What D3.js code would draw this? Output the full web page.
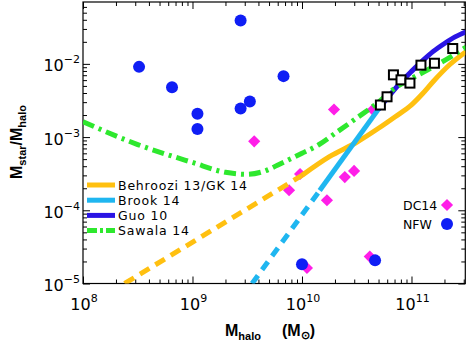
<!DOCTYPE html>
<html>
<head>
<meta charset="utf-8">
<script src="https://cdn.jsdelivr.net/npm/d3@7"></script>
<style>
body { margin: 0; background: #fff; }
svg { display: block; }
text { font-family: "DejaVu Sans", sans-serif; fill: #000; }
</style>
</head>
<body>
<script>
// halo mass (Msun) and Mstar/Mhalo
var behrooziDashM = [2.4e8, 1.0e10];
var behrooziDashR = [1.0e-5, 3.0e-4];
var behrooziM = [1.0e10, 1.78e10, 3.16e10, 5.0e10, 7.1e10, 1.0e11, 1.26e11, 1.58e11, 2.24e11, 3.16e11];
var behrooziR = [3.0e-4, 5.4e-4, 8.5e-4, 1.32e-3, 1.9e-3, 2.75e-3, 3.9e-3, 5.75e-3, 9.8e-3, 1.48e-2];

var brookDashM = [3.5e9, 1.45e10];
var brookDashR = [1.0e-5, 1.86e-4];
var brookM = [1.45e10, 5.6e10];
var brookR = [1.86e-4, 3.05e-3];

var guoM = [5.0e10, 6.3e10, 7.9e10, 1.0e11, 1.26e11, 1.58e11, 2.0e11, 2.5e11, 3.16e11];
var guoR = [2.4e-3, 3.7e-3, 5.5e-3, 7.9e-3, 1.1e-2, 1.48e-2, 1.9e-2, 2.34e-2, 2.75e-2];

var sawalaM = [1e8, 3.16e8, 1e9, 2.0e9, 3.16e9, 4.47e9, 6.3e9, 1e10, 1.41e10, 2.0e10, 3.16e10, 5.0e10, 7.1e10, 1e11, 1.41e11, 2.24e11, 3.16e11];
var sawalaR = [1.62e-3, 7.9e-4, 4.5e-4, 3.3e-4, 3.1e-4, 3.4e-4, 4.3e-4, 6.0e-4, 7.8e-4, 1.12e-3, 1.82e-3, 3.0e-3, 4.7e-3, 6.3e-3, 8.3e-3, 1.23e-2, 1.7e-2];

var dc14M = [1.96e10, 3.66e9, 9.6e9, 2.46e10, 2.99e10, 4.43e10, 7.62e9, 1.69e10, 4.16e10, 1.11e10];
var dc14R = [2.38e-3, 8.75e-4, 3.13e-4, 2.84e-4, 3.45e-4, 2.36e-3, 1.88e-4, 1.37e-4, 2.33e-5, 1.63e-5];

var nfwM = [3.25e8, 6.5e8, 1.11e9, 1.11e9, 2.75e9, 2.75e9, 3.34e9, 6.78e9, 1.0e10, 4.65e10];
var nfwR = [9.1e-3, 4.8e-3, 2.08e-3, 1.29e-3, 3.9e-2, 2.46e-3, 3.07e-3, 6.8e-3, 1.83e-5, 2.07e-5];

var obsM = [5.2e10, 5.98e10, 6.84e10, 8.02e10, 9.68e10, 1.22e11, 1.62e11, 2.38e11];
var obsR = [2.74e-3, 3.55e-3, 7.08e-3, 6.05e-3, 5.46e-3, 9.6e-3, 1.02e-2, 1.62e-2];

var xTicks = [1e8, 1e9, 1e10, 1e11];
var xTickExp = ["8", "9", "10", "11"];
var yTicks = [1e-2, 1e-3, 1e-4, 1e-5];
var yTickExp = ["\u22122", "\u22123", "\u22124", "\u22125"];

var legendNames = ["Behroozi 13/GK 14", "Brook 14", "Guo 10", "Sawala 14"];

var orange = "#ffc010", cyan = "#1fb6f0", indigo = "#2a14e4", green = "#2ee82e",
    magenta = "#ff1ee8", blue = "#0f1ef5";

var svg = d3.select("body").append("svg").attr("width", 471).attr("height", 346);

var pL = 83, pR = 465.3, pT = 2, pB = 283.5;
var x = d3.scaleLog().domain([1e8, 3.1e11]).range([pL, pR]);
var y = d3.scaleLog().domain([1e-5, 7e-2]).range([pB, pT]);

svg.append("clipPath").attr("id", "plot").append("rect")
    .attr("x", pL).attr("y", pT).attr("width", pR - pL).attr("height", pB - pT);

// minor ticks
var xMinor = [], yMinor = [];
xTicks.forEach(function(d) { for (var k = 2; k < 10; k++) if (d * k < 3.1e11) xMinor.push(d * k); });
yTicks.forEach(function(d) { for (var k = 2; k < 10; k++) if (d * k < 7e-2) yMinor.push(d * k); });

function drawAxis(axisFn, scale, tr, vals, len) {
  var g = svg.append("g").attr("transform", tr)
      .call(axisFn(scale).tickValues(vals).tickSize(-len).tickSizeOuter(0).tickFormat(""));
  g.select(".domain").remove();
  g.selectAll("line").attr("stroke", "#000");
}
[[xMinor, 4], [xTicks, 7]].forEach(function(p) {
  drawAxis(d3.axisBottom, x, "translate(0," + pB + ")", p[0], p[1]);
  drawAxis(d3.axisTop, x, "translate(0," + pT + ")", p[0], p[1]);
});
[[yMinor, 4], [yTicks, 7]].forEach(function(p) {
  drawAxis(d3.axisLeft, y, "translate(" + pL + ",0)", p[0], p[1]);
  drawAxis(d3.axisRight, y, "translate(" + pR + ",0)", p[0], p[1]);
});

svg.append("rect").attr("x", pL).attr("y", pT)
    .attr("width", pR - pL).attr("height", pB - pT)
    .attr("fill", "none").attr("stroke", "#000").attr("stroke-width", 1.2);

// tick labels
var xl = svg.selectAll(".xlab").data(xTicks).enter().append("text")
    .attr("x", function(d) { return x(d) + 1; })
    .attr("y", 310)
    .attr("text-anchor", "middle")
    .style("font-size", "16px");
xl.append("tspan").text("10");
xl.append("tspan").attr("dy", -8).style("font-size", "11px").text(function(d, i) { return xTickExp[i]; });

var yl = svg.selectAll(".ylab").data(yTicks).enter().append("text")
    .attr("x", 80)
    .attr("y", function(d) { return y(d) + 7.5; })
    .attr("text-anchor", "end")
    .style("font-size", "16px");
yl.append("tspan").text("10");
yl.append("tspan").attr("dy", -8).style("font-size", "11px").text(function(d, i) { return yTickExp[i]; });

// points under the lines
function pts(m, r) { return m.map(function(d, i) { return [d, r[i]]; }); }

svg.selectAll(".dc14").data(pts(dc14M, dc14R)).enter().append("path")
    .attr("d", d3.symbol(d3.symbolSquare, 74)())
    .attr("transform", function(d) { return "translate(" + x(d[0]) + "," + y(d[1]) + ") rotate(45)"; })
    .attr("fill", magenta);

svg.selectAll(".nfw").data(pts(nfwM, nfwR)).enter().append("circle")
    .attr("cx", function(d) { return x(d[0]); })
    .attr("cy", function(d) { return y(d[1]); })
    .attr("r", 6)
    .attr("fill", blue);

// model curves
var line = d3.line().x(function(d) { return x(d[0]); }).y(function(d) { return y(d[1]); }).curve(d3.curveMonotoneX);
var curves = svg.append("g").attr("clip-path", "url(#plot)");

function curve(m, r, col, dash) {
  curves.append("path").datum(pts(m, r))
      .attr("d", line)
      .attr("fill", "none")
      .attr("stroke", col)
      .attr("stroke-width", 5)
      .attr("stroke-dasharray", dash);
}
curve(behrooziDashM, behrooziDashR, orange, "11,7");
curve(behrooziM, behrooziR, orange, null);
curve(brookDashM, brookDashR, cyan, "10,7");
curve(brookM, brookR, cyan, null);
curve(guoM, guoR, indigo, null);
curve(sawalaM, sawalaR, green, "12,5,3,5");

svg.selectAll(".obs").data(pts(obsM, obsR)).enter().append("rect")
    .attr("x", function(d) { return x(d[0]) - 4.5; })
    .attr("y", function(d) { return y(d[1]) - 4.5; })
    .attr("width", 9).attr("height", 9)
    .attr("fill", "#fff").attr("stroke", "#000").attr("stroke-width", 2);

// legend left
var legCols = [orange, cyan, indigo, green];
var legDash = [null, null, null, "10,3,3,3"];
var lg = svg.selectAll(".leg").data(legendNames).enter().append("g")
    .attr("transform", function(d, i) { return "translate(0," + (185 + i * 15.2) + ")"; });
lg.append("line").attr("x1", 87).attr("x2", 115).attr("y1", 0).attr("y2", 0)
    .attr("stroke", function(d, i) { return legCols[i]; })
    .attr("stroke-width", 5)
    .attr("stroke-dasharray", function(d, i) { return legDash[i]; });
lg.append("text").attr("x", 118).attr("y", 4.5)
    .style("font-size", "12.5px").style("letter-spacing", "0.8px")
    .text(function(d) { return d; });

// legend right
svg.append("text").attr("x", 403).attr("y", 209.5).style("font-size", "12.5px").text("DC14");
svg.append("path").attr("d", d3.symbol(d3.symbolSquare, 74)())
    .attr("transform", "translate(447,205) rotate(45)").attr("fill", magenta);
svg.append("text").attr("x", 403).attr("y", 228.5).style("font-size", "12.5px").text("NFW");
svg.append("circle").attr("cx", 447).attr("cy", 224).attr("r", 6).attr("fill", blue);

// axis titles
var xt = svg.append("text").attr("x", 225).attr("y", 336)
    .style("font-family", "'Liberation Sans', Arial, sans-serif").style("font-weight", "bold").style("font-size", "16px");
xt.append("tspan").text("M");
xt.append("tspan").attr("dy", 3.5).style("font-size", "11px").text("halo");
xt.append("tspan").attr("x", 282).attr("dy", -3.5).text("(M");
xt.append("tspan").attr("dy", 3).style("font-size", "11px").text("\u2299");
xt.append("tspan").attr("dy", -3).text(")");

var yt = svg.append("text").attr("transform", "translate(22,142) rotate(-90)")
    .attr("text-anchor", "middle")
    .style("font-family", "'Liberation Sans', Arial, sans-serif").style("font-weight", "bold").style("font-size", "16px");
yt.append("tspan").text("M");
yt.append("tspan").attr("dy", 3.5).style("font-size", "11px").text("star");
yt.append("tspan").attr("dy", -3.5).text("/M");
yt.append("tspan").attr("dy", 3.5).style("font-size", "11px").text("halo");
</script>
</body>
</html>
